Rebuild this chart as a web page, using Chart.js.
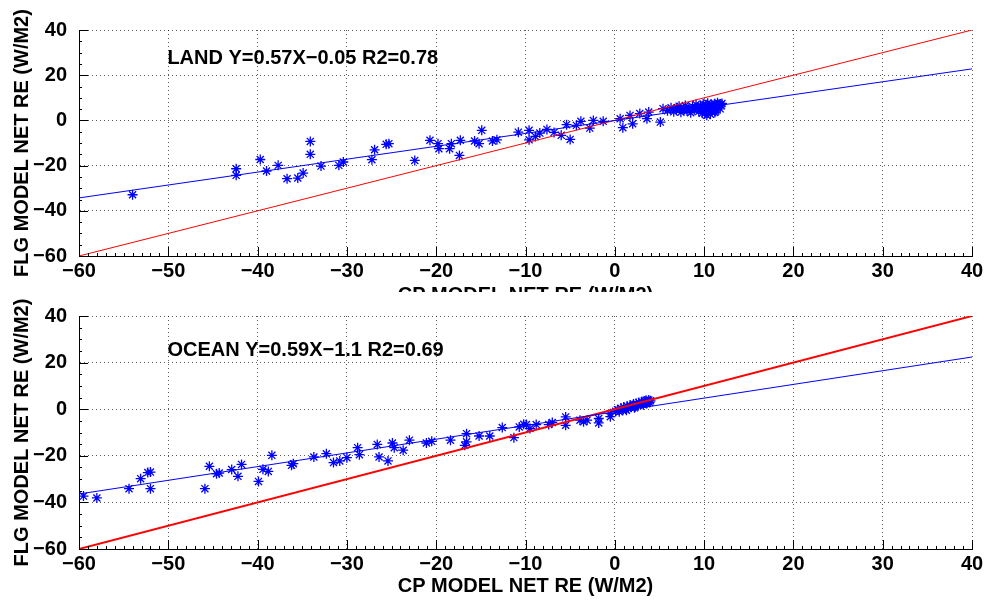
<!DOCTYPE html>
<html>
<head>
<title>CP vs FLG model net RE</title>
<script src="https://cdn.jsdelivr.net/npm/chart.js"></script>
<style>
  body { margin: 0; background: #fff; }
  #wrap { position: relative; width: 989px; height: 606px; overflow: hidden; }
  canvas { position: absolute; left: 0; background: #fff; }
  #landChart { top: 0; z-index: 1; }
  #oceanChart { top: 292px; z-index: 2; }
</style>
</head>
<body>
<div id="wrap">
  <canvas id="landChart" width="989" height="310"></canvas>
  <canvas id="oceanChart" width="989" height="314"></canvas>
</div>
<script>
// axis ticks
const xTicks = [-60, -50, -40, -30, -20, -10, 0, 10, 20, 30, 40];
const yTicks = [-60, -40, -20, 0, 20, 40];

// LAND scatter (CP x, FLG y)
const landX = [-54.0, -42.4, -42.4, -39.7, -39.0, -37.7, -36.7, -35.5, -34.9, -34.1, -34.1, -32.9, -30.9, -30.4,
  -27.2, -26.9, -25.6, -25.3, -22.4, -20.7, -19.8, -19.7, -18.5, -18.3, -17.4, -17.3, -15.7, -15.2, -14.9,
  -13.7, -13.2, -10.8, -9.6, -9.6, -8.9, -8.4, -7.6, -6.8, -6.0, -5.4, -5.0, -4.3, -3.8, -2.8, -2.4, -1.3,
  0.6, 0.9, 1.7, 2.0, 2.8, 3.6, 3.8, 5.1, 5.4,
  5.9, 6.3, 6.6, 6.9, 7.2, 7.4, 7.7, 7.9, 8.1, 8.3, 8.5, 8.7, 8.9, 9.1, 9.2, 9.4, 9.6, 9.7, 9.9, 10.0,
  10.1, 10.2, 10.3, 10.4, 10.5, 10.6, 10.7, 10.8, 10.9, 11.0, 11.1, 11.2, 11.3, 11.4, 11.5, 11.6, 11.7,
  11.8, 11.9, 12.0, 10.3, 9.8, 11.2, 7.0, 8.0];
const landY = [-32.9, -21.4, -24.3, -17.3, -22.4, -19.9, -25.8, -25.5, -23.3, -9.3, -15.0, -20.2, -19.9, -18.4,
  -17.4, -13.0, -10.6, -10.3, -17.7, -8.8, -10.3, -12.5, -12.5, -10.3, -15.5, -8.8, -9.1, -10.3, -4.4,
  -9.1, -8.6, -5.2, -4.4, -8.6, -7.1, -5.6, -4.0, -5.3, -6.6, -1.9, -8.4, -2.2, -0.4, -3.4, 0.0, -0.4,
  0.75, -3.2, 2.2, -1.5, 3.0, 0.75, 3.7, -0.75, 5.2,
  4.3, 5.6, 3.8, 4.9, 6.3, 3.6, 5.1, 6.6, 4.2, 5.4, 3.4, 6.1, 4.7, 7.0, 5.5, 3.9, 6.4, 4.9, 7.3, 5.8,
  3.1, 6.9, 4.4, 7.6, 5.3, 6.2, 2.7, 7.1, 4.8, 6.6, 5.7, 7.4, 4.1, 6.8, 7.8, 6.0, 7.2,
  5.1, 6.9, 7.5, 2.3, 3.2, 3.5, 5.6, 4.9];

// OCEAN scatter
const oceanX = [-59.5, -58.0, -54.4, -53.1, -52.3, -52.0, -52.0, -45.9, -45.4, -44.6, -44.3, -42.9, -42.2, -41.8,
  -39.9, -39.4, -38.8, -38.4, -36.2, -36.0, -33.7, -32.3, -31.5, -30.8, -30.0, -28.8, -28.6, -26.6, -26.4,
  -25.4, -24.9, -24.7, -23.7, -23.0, -21.1, -20.5, -18.4, -16.8, -16.6, -16.6, -15.2, -14.0, -12.6, -11.3,
  -10.7, -10.2, -9.9, -9.5, -8.8, -7.4, -7.0, -5.5, -5.5, -3.9, -3.5, -3.1, -1.8, -1.8, -0.5, -0.5,
  0.1, 0.3, 0.5, 0.7, 0.9, 1.0, 1.2, 1.4, 1.5, 1.7, 1.8, 2.0, 2.1, 2.3, 2.4, 2.6, 2.7, 2.9, 3.0, 3.1,
  3.2, 3.3, 3.4, 3.5, 3.6, 3.7, 3.8, 3.9, 4.0, 2.2, 1.3];
const oceanY = [-37.3, -38.1, -34.1, -29.8, -27.2, -27.0, -34.1, -34.1, -24.5, -27.7, -27.4, -25.9, -28.8, -23.7,
  -31.0, -25.8, -26.7, -19.8, -24.1, -23.4, -20.5, -19.1, -22.9, -22.2, -20.8, -16.5, -19.5, -15.1, -20.5,
  -22.2, -14.5, -16.5, -17.6, -13.3, -14.5, -13.8, -13.3, -15.5, -10.5, -14.0, -11.5, -11.5, -7.9, -12.2,
  -7.6, -6.5, -6.6, -8.3, -6.6, -6.6, -5.7, -3.3, -6.9, -4.7, -5.4, -4.7, -4.0, -5.9, -1.9, -3.2,
  -0.9, -0.2, -1.1, 0.4, -0.5, 0.9, 0.1, 1.3, 0.4, 1.7, 0.8, 1.4, 2.2, 1.1, 2.5, 1.7, 2.9, 2.1, 3.2, 2.4,
  1.9, 3.5, 2.8, 3.8, 2.6, 3.3, 3.9, 2.9, 3.6, 0.6, -0.4];

// fit lines and 1:1 line, end points at x = -60 and 40
const lineX = [-60, 40];
const oneToOneY = [-60, 40];
const landFitY = [-34.3, 22.8];
const oceanFitY = [-36.4, 22.4];

const landNote = 'LAND Y=0.57X\u22120.05 R2=0.78';
const oceanNote = 'OCEAN Y=0.59X\u22121.1 R2=0.69';
const noteX = -50.1;

Chart.defaults.font.family = '"Liberation Sans", Arial, Helvetica, sans-serif';
Chart.defaults.font.size = 20;
Chart.defaults.font.weight = 'bold';
Chart.defaults.color = '#000';

const minus = v => String(v).replace('-', '\u2212');
const pts = (xs, ys) => xs.map((x, i) => ({ x: x, y: ys[i] }));

function makeChart(id, o) {
  const ctx = document.getElementById(id).getContext('2d');

  // inward major + minor ticks on the left and bottom axes, and the equation text
  const extras = {
    id: 'extras',
    afterDraw(chart) {
      const c = chart.ctx, xs = chart.scales.x, ys = chart.scales.y, a = chart.chartArea;
      c.save();
      c.strokeStyle = '#000';
      c.lineWidth = 1;
      c.beginPath();
      for (let v = -60; v <= 40; v += 1) {
        const px = Math.round(xs.getPixelForValue(v)) + 0.5;
        const len = v % 10 === 0 ? 9 : 3;
        c.moveTo(px, a.bottom); c.lineTo(px, a.bottom - len);
      }
      for (let v = -60; v <= 40; v += 5) {
        const py = Math.round(ys.getPixelForValue(v)) + 0.5;
        const len = v % 20 === 0 ? 9 : 3;
        c.moveTo(a.left, py); c.lineTo(a.left + len, py);
      }
      c.stroke();
      c.font = 'bold 20px "Liberation Sans", Arial, sans-serif';
      c.fillStyle = '#000';
      c.textBaseline = 'middle';
      c.fillText(o.note, xs.getPixelForValue(noteX), ys.getPixelForValue(o.noteY));
      c.restore();
    }
  };

  return new Chart(ctx, {
    type: 'scatter',
    data: {
      datasets: [{
        label: 'fit',
        data: pts(lineX, o.fitY),
        showLine: true,
        borderColor: '#0000ff',
        borderWidth: 1,
        pointRadius: 0
      }, {
        label: '1:1',
        data: pts(lineX, oneToOneY),
        showLine: true,
        borderColor: '#ff0000',
        borderWidth: o.redWidth,
        pointRadius: 0
      }, {
        label: 'models',
        data: pts(o.xs, o.ys),
        pointStyle: 'star',
        radius: 5,
        borderColor: '#0000ff',
        backgroundColor: '#0000ff',
        borderWidth: 1.3
      }]
    },
    options: {
      responsive: false,
      animation: false,
      layout: { padding: { top: o.padTop, right: 17, bottom: 0, left: 0 } },
      plugins: { legend: { display: false }, tooltip: { enabled: false } },
      scales: {
        x: {
          type: 'linear',
          min: -60, max: 40,
          afterFit: s => { s.height = o.xHeight; },
          afterBuildTicks: s => { s.ticks = xTicks.map(v => ({ value: v })); },
          ticks: { padding: 3, maxRotation: 0, callback: minus },
          grid: { color: 'rgba(0,0,0,0.65)', drawTicks: false },
          border: { color: '#000', width: 1, dash: [1, 3] },
          title: { display: true, text: 'CP MODEL NET RE (W/M2)', padding: { top: 0, bottom: o.titlePad } }
        },
        y: {
          type: 'linear',
          min: -60, max: 40,
          afterFit: s => { s.width = 79; },
          afterBuildTicks: s => { s.ticks = yTicks.map(v => ({ value: v })); },
          ticks: { padding: 12, callback: minus },
          grid: { color: 'rgba(0,0,0,0.65)', drawTicks: false },
          border: { color: '#000', width: 1, dash: [1, 3] },
          title: { display: true, text: 'FLG MODEL NET RE (W/M2)', padding: { top: 10, bottom: 0 } }
        }
      }
    },
    plugins: [extras]
  });
}

makeChart('landChart', {
  xs: landX, ys: landY, fitY: landFitY, redWidth: 1,
  note: landNote, noteY: 27.4, padTop: 30, xHeight: 54, titlePad: 3
});
makeChart('oceanChart', {
  xs: oceanX, ys: oceanY, fitY: oceanFitY, redWidth: 2,
  note: oceanNote, noteY: 25.4, padTop: 24, xHeight: 57, titlePad: 8
});
</script>
</body>
</html>
